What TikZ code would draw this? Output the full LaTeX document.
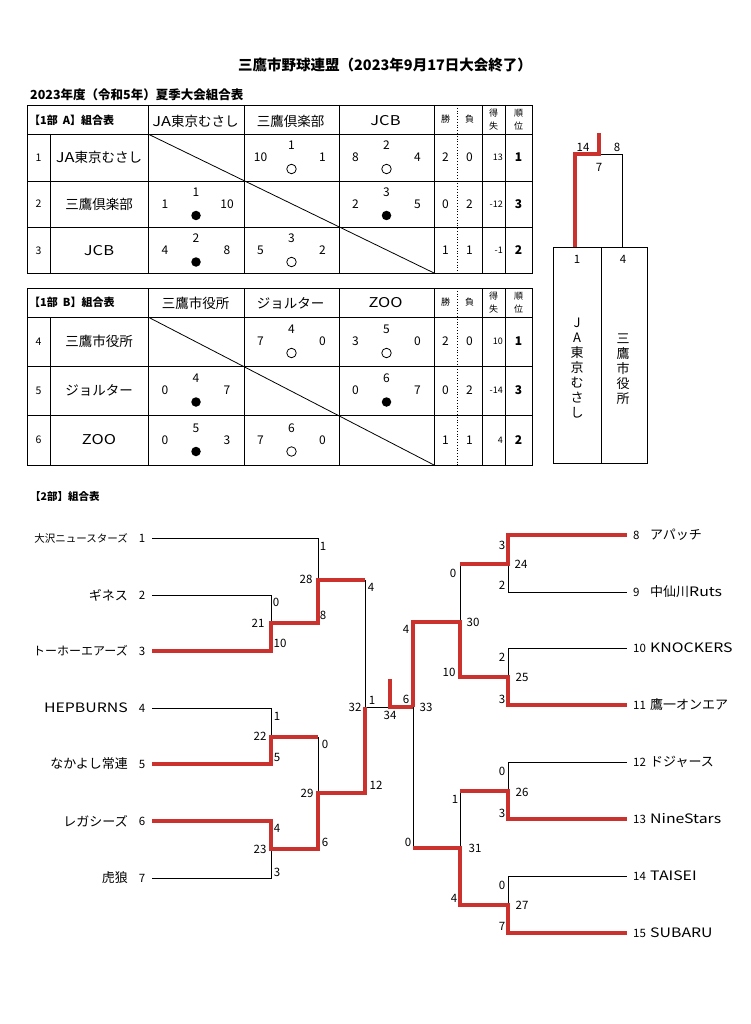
\documentclass[tikz,border=0pt]{standalone}
\usepackage{fontspec}
\setmainfont{Noto Sans CJK JP}
\newfontfamily\lat{Noto Sans CJK JP}[FakeStretch=1.22]
\definecolor{bred}{RGB}{204,50,45}

\tikzset{
  tbl/.style={line width=0.8pt},
  lose/.style={line width=0.8pt},
  win/.style={draw=bred,line width=3.2pt},
  won/.style={circle,draw,line width=0.8pt,minimum size=9.5pt,inner sep=0pt},
  lost/.style={circle,fill,minimum size=9.5pt,inner sep=0pt},
  gno/.style={font=\fontsize{12}{13}\selectfont,inner sep=0pt},
  hd/.style={font=\fontsize{13.5}{15}\selectfont,inner sep=0pt},
  sm/.style={font=\fontsize{9}{10}\selectfont,inner sep=0pt},
  rno/.style={font=\fontsize{10.5}{11}\selectfont,inner sep=0pt},
  sc/.style={font=\fontsize{11.5}{12}\selectfont,inner sep=0pt},
  team/.style={font=\fontsize{13}{14}\selectfont,inner sep=0pt},
  vert/.style={font=\fontsize{13}{15}\selectfont,align=center,inner sep=0pt},
}

% one round-robin grid with its stat headings
\newcommand{\rrgrid}[6]{%
  \draw[tbl] (27,#2) rectangle (532,#6);
  \foreach \y in {#3,#4,#5} \draw[tbl] (27,\y) -- (532,\y);
  \draw[tbl] (50,#3) -- (50,#6);
  \foreach \x in {148,244,339,434,482,505} \draw[tbl] (\x,#2) -- (\x,#6);
  \draw[tbl,dotted] (457,#2) -- (457,#6);
  \draw[tbl] (148,#3) -- (434,#6);
  \node[sm] (#1win) at (445.5,{(#2+#3)/2}) {勝};
  \node[sm] (#1lose) at (469.5,{(#2+#3)/2}) {負};
  \node[sm] (#1diffa) at (493.5,{(#2+#3)/2-6.5}) {得};
  \node[sm] (#1diffb) at (493.5,{(#2+#3)/2+6.5}) {失};
  \node[sm] (#1ranka) at (518.5,{(#2+#3)/2-6.5}) {順};
  \node[sm] (#1rankb) at (518.5,{(#2+#3)/2+6.5}) {位};
}

% one game: game number, both scores, mark
\newcommand{\gamecell}[7]{%
  \node[gno] (#1n) at (#2,#3-12) {#4};
  \node[gno] (#1l) at (#2-31,#3) {#5};
  \node[gno] (#1r) at (#2+31,#3) {#6};
  \node[#7] (#1m) at (#2,#3+11.5) {};
}

\begin{document}
\begin{tikzpicture}[x=1pt,y=-1pt]
  \fill[white] (0,0) rectangle (750,1024);
  \useasboundingbox (0,0) rectangle (750,1024);

  \node[font=\bfseries\fontsize{14.5}{16}\selectfont] (title) at (385,65) {三鷹市野球連盟（2023年9月17日大会終了）};
  \node[font=\bfseries\fontsize{12.5}{14}\selectfont,anchor=west,inner sep=0pt] (season) at (30,95) {2023年度（令和5年）夏季大会組合表};

  % 1部 A
  \rrgrid{A}{105}{134}{181}{227}{273}
  \node[font=\bfseries\fontsize{11}{12}\selectfont,anchor=west,inner sep=0pt] (hA) at (29,120) {【1部\ \ A】組合表};
  \foreach \t [count=\i] in {{{\lat JA}東京むさし},三鷹倶楽部,{\lat JCB}} {
    \node[hd] (hA\i) at (100.5+95*\i,121) {\t};
    \node[rno] (rA\i) at (38.5,111+46.5*\i) {\i};
    \node[hd] (tA\i) at (99,111+46.5*\i) {\t};
  }
  \foreach \w/\l/\d/\r [count=\i] in {2/0/13/1,0/2/-12/3,1/1/-1/2} {
    \node[gno] (wA\i) at (445.5,111+46.5*\i) {\w};
    \node[gno] (lA\i) at (469.5,111+46.5*\i) {\l};
    \node[sm,anchor=east] (dA\i) at (503,111+46.5*\i) {\d};
    \node[gno,font=\bfseries\fontsize{12}{13}\selectfont] (pA\i) at (518.5,111+46.5*\i) {\r};
  }
  \gamecell{a12}{291.5}{157.5}{1}{10}{1}{won}
  \gamecell{a13}{386.5}{157.5}{2}{8}{4}{won}
  \gamecell{a21}{196}{204}{1}{1}{10}{lost}
  \gamecell{a23}{386.5}{204}{3}{2}{5}{lost}
  \gamecell{a31}{196}{250.5}{2}{4}{8}{lost}
  \gamecell{a32}{291.5}{250.5}{3}{5}{2}{won}

  % 1部 B
  \rrgrid{B}{288}{317}{366}{415}{465}
  \node[font=\bfseries\fontsize{11}{12}\selectfont,anchor=west,inner sep=0pt] (hB) at (29,302.5) {【1部\ \ B】組合表};
  \foreach \t/\y [count=\i from 4] in {三鷹市役所/341.5,ジョルター/390.5,{\lat ZOO}/440} {
    \node[hd] (hB\i) at (100.5+95*\i-285,303) {\t};
    \node[rno] (rB\i) at (38.5,\y) {\i};
    \node[hd] (tB\i) at (99,\y) {\t};
  }
  \foreach \y/\w/\l/\d/\r [count=\i] in {341.5/2/0/10/1,390.5/0/2/-14/3,440/1/1/4/2} {
    \node[gno] (wB\i) at (445.5,\y) {\w};
    \node[gno] (lB\i) at (469.5,\y) {\l};
    \node[sm,anchor=east] (dB\i) at (503,\y) {\d};
    \node[gno,font=\bfseries\fontsize{12}{13}\selectfont] (pB\i) at (518.5,\y) {\r};
  }
  \gamecell{b12}{291.5}{341.5}{4}{7}{0}{won}
  \gamecell{b13}{386.5}{341.5}{5}{3}{0}{won}
  \gamecell{b21}{196}{390.5}{4}{0}{7}{lost}
  \gamecell{b23}{386.5}{390.5}{6}{0}{7}{lost}
  \gamecell{b31}{196}{440}{5}{0}{3}{lost}
  \gamecell{b32}{291.5}{440}{6}{7}{0}{won}

  % 1部 final
  \draw[tbl] (553,247) rectangle (647,463);
  \draw[tbl] (601,247) -- (601,463);
  \coordinate (k1) at (575,247);
  \coordinate (k4) at (622,247);
  \coordinate (k7) at (599,154);
  \coordinate (k0) at (599,133);
  \draw[lose] (k7) -| (k4);
  \draw[win] (k1) |- (k7) -- (k0);
  \node[sc] (f14) at (583,147) {14};
  \node[sc] (f8) at (617,147) {8};
  \node[sc] (f7) at (599,167) {7};
  \node[sc] (f1) at (577,259) {1};
  \node[sc] (f4) at (623,259) {4};
  \node[vert] (vA) at (577,368) {J\\A\\東\\京\\む\\さ\\し};
  \node[vert] (vB) at (623,369) {三\\鷹\\市\\役\\所};

  % 2部
  \node[font=\bfseries\fontsize{10.5}{12}\selectfont,anchor=west,inner sep=0pt] (h2) at (30,497) {【2部】組合表};
  \foreach \t/\y [count=\i] in {{\fontsize{10.5}{11}\selectfont 大沢ニュースターズ}/538,ギネス/595,{\fontsize{12}{12}\selectfont トーホーエアーズ}/651,{\lat HEPBURNS}/708,なかよし常連/764,レガシーズ/821,虎狼/878} {
    \coordinate (a\i) at (152,\y);
    \node[sc] (no\i) at (142,\y) {\i};
    \node[team,anchor=east] (tn\i) at (128,\y) {\t};
  }
  \foreach \t/\y [count=\i from 8] in {アパッチ/535,{中仙川\lat Ruts}/592,{\lat KNOCKERS}/648,鷹一オンエア/705,ドジャース/762,{\lat NineStars}/819,{\lat TAISEI}/876,{\lat SUBARU}/933} {
    \coordinate (b\i) at (627,\y);
    \node[sc,anchor=west] (no\i) at (633,\y) {\i};
    \node[team,anchor=west] (tn\i) at (650,\y) {\t};
  }

  \coordinate (j21) at (271,623);
  \coordinate (j28) at (318,580);
  \coordinate (j22) at (271,737);
  \coordinate (j23) at (271,849);
  \coordinate (j29) at (318,793);
  \coordinate (j32) at (365,707);
  \coordinate (j34) at (390,707);
  \coordinate (c34) at (390,679);
  \coordinate (j33) at (413,707);
  \coordinate (j30) at (460,622);
  \coordinate (j24) at (508,564);
  \coordinate (j25) at (508,677);
  \coordinate (j31) at (460,848);
  \coordinate (j26) at (508,791);
  \coordinate (j27) at (508,905);

  % losing lines
  \draw[lose] (a1) -| (j28);
  \draw[lose] (a2) -| (j21);
  \draw[lose] (a4) -| (j22);
  \draw[lose] (a7) -| (j23);
  \draw[lose] (j22 -| j29) -- (j29);
  \draw[lose] (j28 -| j32) -- (j32) -- (j34);
  \draw[lose] (j30) -- (j30 |- j24);
  \draw[lose] (j24) |- (b9);
  \draw[lose] (j25) |- (b10);
  \draw[lose] (j33) -- (j33 |- j31);
  \draw[lose] (j31) -- (j31 |- j26);
  \draw[lose] (j26) |- (b12);
  \draw[lose] (j27) |- (b14);

  % winning lines
  \draw[win] (a3) -| (j21) -| (j28) -- (j28 -| j32);
  \draw[win] (a5) -| (j22) -- (j22 -| j29);
  \draw[win] (a6) -| (j23) -| (j29) -| (j32);
  \draw[win] (c34) -- (j34) -- (j33);
  \draw[win] (j33) |- (j30) |- (j25) |- (b11);
  \draw[win] (j30 |- j24) -- (j24) |- (b8);
  \draw[win] (j33 |- j31) -- (j31) |- (j27) |- (b15);
  \draw[win] (j31 |- j26) -- (j26) |- (b13);

  % scores
  \foreach \x/\y/\s [count=\k] in {
      323/546/1, 276/602/0, 258/623/21, 280/643/10, 323/615/8, 306/579/28, 371/587/4,
      277/716/1, 260/736/22, 277/757/5, 325/744/0, 307/793/29, 376/785/12,
      277/828/4, 260/849/23, 325/842/6, 277/872/3,
      355/707/32, 372/700/1, 390/715/34, 406/699/6, 426/707/33,
      502/545/3, 521/564/24, 502/585/2, 453/573/0, 473/622/30, 406/629/4,
      502/657/2, 522/677/25, 502/699/3, 449/672/10,
      502/771/0, 522/792/26, 502/813/3, 455/799/1, 408/842/0, 475/848/31,
      502/885/0, 522/905/27, 502/926/7, 454/898/4} {
    \node[sc] (s\k) at (\x,\y) {\s};
  }
\end{tikzpicture}
\end{document}
